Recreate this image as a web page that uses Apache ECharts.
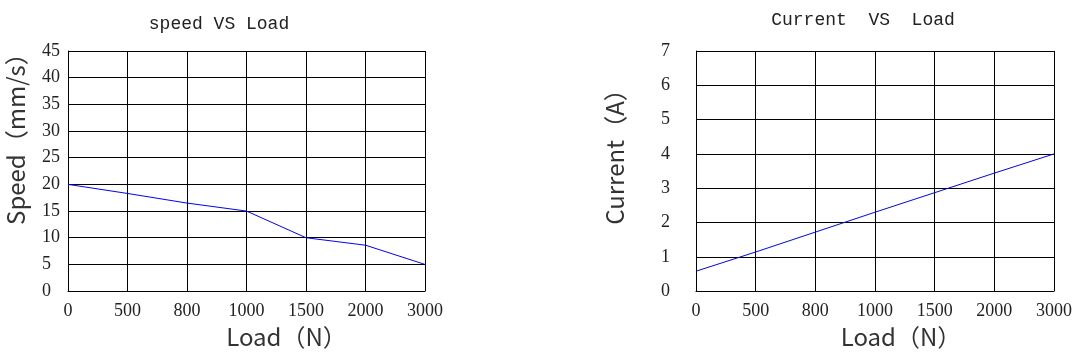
<!DOCTYPE html>
<html>
<head>
<meta charset="utf-8">
<script src="https://cdn.jsdelivr.net/npm/echarts@6/dist/echarts.min.js"></script>
<style>
  html, body { margin: 0; padding: 0; background: #fff; }
  #chart { width: 1087px; height: 354px; }
</style>
</head>
<body>
<div id="chart"></div>
<script>
const loads = ['0', '500', '800', '1000', '1500', '2000', '3000'];
const speed = [20, 18.3, 16.5, 15, 10, 8.6, 5];
const current = [0.58, 1.14, 1.72, 2.3, 2.87, 3.44, 4.0];
const speedTicks = { min: 0, max: 45, interval: 5 };
const currentTicks = { min: 0, max: 7, interval: 1 };

const tickFont = { color: '#222', fontFamily: 'Liberation Serif', fontSize: 18 };
const nameFont = { color: '#333', fontFamily: 'Noto Sans CJK SC', fontSize: 24, fontWeight: 'normal' };
const titleFont = { color: '#222', fontFamily: 'Liberation Mono', fontSize: 18, fontWeight: 'normal' };
const black = { color: '#000', width: 1 };

const chart = echarts.init(document.getElementById('chart'));

const xAxis = (idx, shift) => ({
  type: 'category',
  gridIndex: idx,
  data: loads,
  boundaryGap: false,
  name: 'Load（N）',
  nameLocation: 'middle',
  nameGap: 33,
  nameTextStyle: { ...nameFont, padding: [0, 0, 0, shift] },
  axisLine: { lineStyle: black },
  axisTick: { show: false },
  axisLabel: { ...tickFont, margin: 11 },
  splitLine: { show: true, lineStyle: black }
});

const yAxis = (idx, ticks, name, gap, shift, labelMargin) => ({
  type: 'value',
  gridIndex: idx,
  min: ticks.min,
  max: ticks.max,
  interval: ticks.interval,
  name: name,
  nameLocation: 'middle',
  nameGap: gap,
  nameTextStyle: { ...nameFont, padding: [0, 0, 0, shift] },
  axisLine: { show: true, lineStyle: black },
  axisTick: { show: false },
  axisLabel: { ...tickFont, align: 'left', margin: labelMargin },
  splitLine: { show: true, lineStyle: black }
});

const option = {
  animation: false,
  title: [
    { text: 'speed VS Load', left: 214, top: 10, textAlign: 'center', textStyle: titleFont },
    { text: 'Current  VS  Load', left: 858, top: 6, textAlign: 'center', textStyle: titleFont }
  ],
  grid: [
    { left: 68, top: 51, width: 357, bottom: 62 },
    { left: 696, top: 51, right: 33, bottom: 62 }
  ],
  xAxis: [xAxis(0, 80), xAxis(1, 52)],
  yAxis: [
    yAxis(0, speedTicks, 'Speed（mm/s）', 40, 76, 26),
    yAxis(1, currentTicks, 'Current（A）', 69, 40, 35)
  ],
  series: [
    {
      type: 'line',
      xAxisIndex: 0,
      yAxisIndex: 0,
      data: speed,
      symbol: 'none',
      lineStyle: { color: '#0000ff', width: 1 }
    },
    {
      type: 'line',
      xAxisIndex: 1,
      yAxisIndex: 1,
      data: current,
      symbol: 'none',
      lineStyle: { color: '#0000ff', width: 1 }
    }
  ]
};

chart.setOption(option);
</script>
</body>
</html>
